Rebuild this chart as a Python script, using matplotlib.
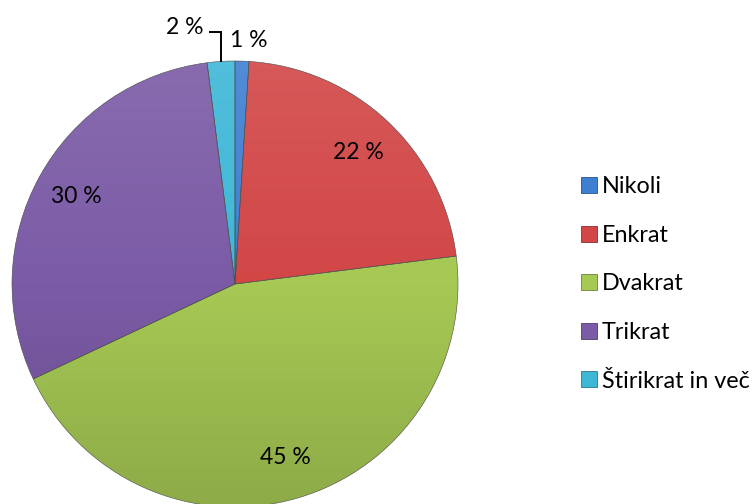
import matplotlib
matplotlib.use('Agg')
import matplotlib.pyplot as plt
import numpy as np
from matplotlib.colors import LinearSegmentedColormap, to_rgb
from matplotlib.lines import Line2D

plt.rcParams['font.family'] = ['Lato', 'DejaVu Sans']

categories = ['Nikoli', 'Enkrat', 'Dvakrat', 'Trikrat', 'Štirikrat in več']
shares = [1, 22, 45, 30, 2]
colors = ['#3f7fd2', '#d24646', '#a6c954', '#7b5ba6', '#3eb7d7']

fig = plt.figure(figsize=(7.56, 5.04), dpi=100)
# square axes, pie centre near (235, 284) px, radius 223 px
ax = fig.add_axes([12 / 756, -3 / 504, 446 / 756, 446 / 504])

wedges, _ = ax.pie(shares, colors=colors, startangle=90, counterclock=False,
                   radius=1, center=(0, 0), frame=True,
                   wedgeprops=dict(edgecolor='#4a4a4a', linewidth=0.4))
ax.set_xlim(-1, 1)
ax.set_ylim(-1, 1)
ax.axis('off')


def shade(c, f):
    r, g, b = to_rgb(c)
    if f >= 0:
        return (r + (1 - r) * f, g + (1 - g) * f, b + (1 - b) * f)
    return (r * (1 + f), g * (1 + f), b * (1 + f))


# vertical gradient inside every wedge (lighter on top)
grad = np.linspace(0, 1, 256).reshape(-1, 1)
for w, c in zip(wedges, colors):
    cmap = LinearSegmentedColormap.from_list('g', [shade(c, -0.15), c, shade(c, 0.1)])
    im = ax.imshow(grad, cmap=cmap, extent=[-1, 1, -1, 1], origin='lower',
                   aspect='auto', zorder=1.5, interpolation='bicubic')
    im.set_clip_path(w)
    w.set_facecolor('none')
    w.set_zorder(2)

# percentage labels inside the large slices
for w, v in zip(wedges, shares):
    if v < 5:
        continue
    ang = np.deg2rad((w.theta1 + w.theta2) / 2)
    ax.text(0.81 * np.cos(ang), 0.81 * np.sin(ang), f'{v} %',
            ha='center', va='center', fontsize=16.5, color='black', zorder=3)

# small slices labelled outside
ax.text(0.063, 1.094, f'{shares[0]} %', ha='center', va='center',
        fontsize=16.5, clip_on=False)
ax.text(-0.224, 1.152, f'{shares[4]} %', ha='center', va='center',
        fontsize=16.5, clip_on=False)
ang2 = np.deg2rad((wedges[4].theta1 + wedges[4].theta2) / 2)
x2 = np.cos(ang2)
ax.plot([-0.112, x2, x2], [1.13, 1.13, 1.0], color='black', lw=1.4,
        clip_on=False, solid_joinstyle='miter')

handles = [Line2D([], [], marker='s', linestyle='none', markersize=11.5,
                  markerfacecolor=c, markeredgecolor=shade(c, -0.35),
                  markeredgewidth=0.6) for c in colors]
fig.legend(handles, categories, loc='center left',
           bbox_to_anchor=(568 / 756, 1 - 284 / 504), frameon=False,
           fontsize=16.8, handlelength=0.8, handletextpad=0.15,
           labelspacing=1.18, borderpad=0)

fig.savefig('out.png', dpi=100)
